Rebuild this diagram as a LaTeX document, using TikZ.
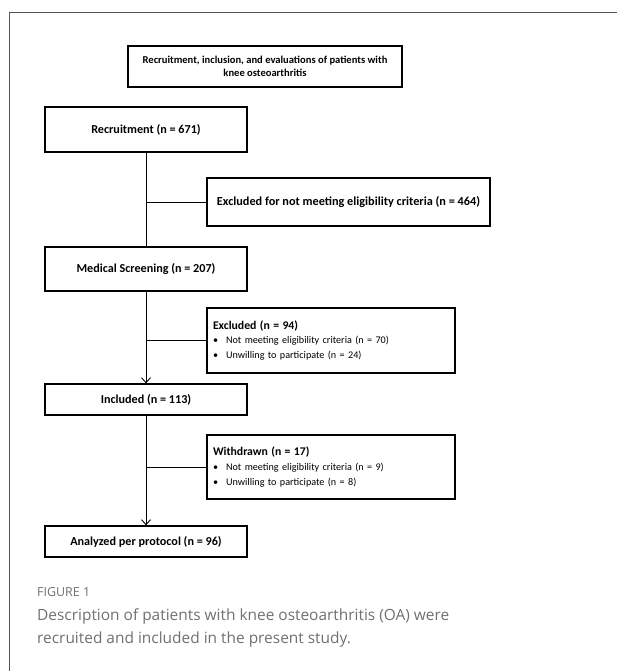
\documentclass[tikz,border=0pt]{standalone}
\usepackage{fontspec}
\setmainfont{Carlito}
\newfontfamily\capfont{Open Sans}
\usetikzlibrary{arrows.meta, positioning}
\definecolor{framegray}{HTML}{555555}
\definecolor{capgray}{HTML}{707070}
\tikzstyle{arrow}     = [line width=0.9bp,-{Straight Barb[length=5bp,width=9bp]}]
\tikzstyle{edge}      = [line width=0.9bp]
\tikzstyle{stage}     = [draw, line width=1.3bp, minimum width=202bp, inner sep=2pt, align=center, font=\bfseries\fontsize{12.2}{14}\selectfont]
\tikzstyle{sidebox}   = [draw, line width=1.3bp, minimum width=248bp, inner sep=2pt, align=left, font=\fontsize{10.2}{15}\selectfont]

\begin{document}
\begin{tikzpicture}[x=1bp, y=-1bp]
        \useasboundingbox (0,0) rectangle (617,671);

        % Rahmen
        \draw[framegray, line width=1.4bp] (9.5,671) -- (9.5,12.5) -- (617,12.5);

        % Titel
        \node[draw, line width=1.3bp, minimum width=274bp, minimum height=41bp, align=center,
              font=\bfseries\fontsize{10.6}{13}\selectfont]
            (title) at (265,66.5)
            {Recruitment, inclusion, and evaluations of patients with\\knee osteoarthritis};

        % Hauptpfad
        \node[stage, minimum height=45bp] (rec) at (146,129.5) {Recruitment (n = 671)};
        \node[stage, minimum height=44bp] (screen) at (146,269) {Medical Screening (n = 207)};
        \node[stage, minimum height=31bp] (incl) at (146,399.5) {Included (n = 113)};
        \node[stage, minimum height=31bp] (anal) at (146,541.5) {Analyzed per protocol (n = 96)};

        % Ausschluesse
        \node[stage, minimum width=283bp, minimum height=48bp,
              font=\bfseries\fontsize{12.3}{14}\selectfont]
            (excl1) at (348.5,202)
            {Excluded for not meeting eligibility criteria (n = 464)};

        \node[sidebox, minimum height=65bp, text width=236bp]
            (excl2) at (331,340.5)
            {{\bfseries\fontsize{11.8}{15}\selectfont Excluded (n = 94)}\\
             \textbullet\hspace{8bp}Not meeting eligibility criteria (n = 70)\\
             \textbullet\hspace{8bp}Unwilling to participate (n = 24)};

        \node[sidebox, minimum height=64bp, text width=236bp]
            (withd) at (331,467)
            {{\bfseries\fontsize{11.8}{15}\selectfont Withdrawn (n = 17)}\\
             \textbullet\hspace{8bp}Not meeting eligibility criteria (n = 9)\\
             \textbullet\hspace{8bp}Unwilling to participate (n = 8)};

        % Verbindungen
        \draw[edge] (rec) -- (screen);
        \draw[arrow] (screen) -- (incl);
        \draw[arrow] (incl) -- (anal);

        \coordinate (b1) at (rec.south |- excl1.west);
        \coordinate (b2) at (rec.south |- excl2.west);
        \coordinate (b3) at (rec.south |- withd.west);
        \draw[edge] (b1) -- (excl1.west);
        \draw[edge] (b2) -- (excl2.west);
        \draw[edge] (b3) -- (withd.west);

        % Bildunterschrift
        \node[anchor=west, inner sep=0pt, text=capgray, font=\capfont\fontsize{12.5}{14}\selectfont]
            (fig) at (37,592) {FIGURE 1};
        \node[anchor=north west, inner sep=0pt, text=capgray, align=left,
              font=\capfont\fontsize{15.5}{24}\selectfont]
            (cap) at (37,608)
            {Description of patients with knee osteoarthritis (OA) were\\
             recruited and included in the present study.};

\end{tikzpicture}
\end{document}
